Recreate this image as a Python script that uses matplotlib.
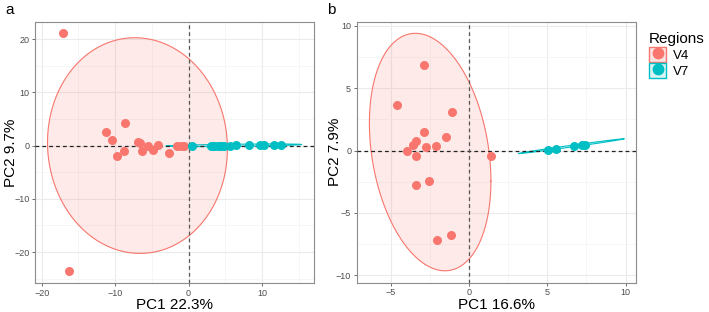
import numpy as np
import matplotlib.pyplot as plt
from matplotlib.patches import Patch
from matplotlib.lines import Line2D

plt.rcParams['font.family'] = ['Liberation Sans', 'DejaVu Sans']

RED = '#F8766D'
TEAL = '#00BFC4'

# panel a scores (PC1, PC2)
a_v4_x = [-17.05, -16.3, -11.2, -8.7, -10.45, -9.8, -8.8, -6.9, -6.6, -6.3,
          -5.45, -4.85, -4.2, -2.7, -1.5, -1.05, -0.6]
a_v4_y = [21.1, -23.6, 2.55, 4.3, 1.1, -2.0, -1.1, 0.7, 0.4, -1.1,
          0.0, -0.9, 0.1, -1.4, 0.0, 0.0, 0.0]
a_v7_x = [0.45, 3.05, 3.5, 3.95, 4.4, 4.9, 5.6, 6.5, 8.2, 9.8, 10.25, 11.7, 12.6]
a_v7_y = [-0.05, 0.0, 0.0, 0.0, 0.0, 0.0, 0.0, 0.05, 0.05, 0.1, 0.1, 0.1, 0.15]

# panel b scores
b_v4_x = [-2.85, -4.6, -1.07, -2.9, -1.45, -3.38, -3.55, -2.74, -2.13, -3.96,
          -3.38, 1.38, -3.36, -2.53, -2.06, -1.13]
b_v4_y = [6.9, 3.64, 3.13, 1.5, 1.12, 0.8, 0.43, 0.3, 0.38, -0.05,
          -0.43, -0.43, -2.75, -2.43, -7.14, -6.74]
b_v7_x = [5.02, 5.55, 6.7, 7.19, 7.4]
b_v7_y = [0.08, 0.11, 0.38, 0.43, 0.48]

# 95% ellipses: centre (x, y) and Cholesky factor (l11, l21, l22)
a_v4_ell = [(-6.95, 0.0), (12.25, -0.58, 20.24)]
a_v7_ell = [(6.15, 0.05), (9.25, 0.15, 0.2)]
b_v4_ell = [(-2.48, -0.12), (3.88, -2.32, 9.24)]
b_v7_ell = [(6.52, 0.35), (3.37, 0.59, 0.07)]

panels = [
    dict(tag='a', xl='PC1 22.3%', yl='PC2 9.7%', xlim=(-20.9, 17.1), ylim=(-25.8, 23.2),
         xt=[-20, -10, 0, 10], yt=[-20, -10, 0, 10, 20],
         v4=(a_v4_x, a_v4_y, a_v4_ell), v7=(a_v7_x, a_v7_y, a_v7_ell),
         rect=[0.0494, 0.093, 0.3936, 0.8365], ylx=-0.086),
    dict(tag='b', xl='PC1 16.6%', yl='PC2 7.9%', xlim=(-7.17, 10.66), ylim=(-10.6, 10.34),
         xt=[-5, 0, 5, 10], yt=[-10, -5, 0, 5, 10],
         v4=(b_v4_x, b_v4_y, b_v4_ell), v7=(b_v7_x, b_v7_y, b_v7_ell),
         rect=[0.5031, 0.094, 0.3939, 0.8365], ylx=-0.078),
]


def draw_ellipse(ax, ell, color):
    (cx, cy), (l11, l21, l22) = ell
    t = np.linspace(0, 2 * np.pi, 300)
    ex = cx + l11 * np.cos(t)
    ey = cy + l21 * np.cos(t) + l22 * np.sin(t)
    ax.fill(ex, ey, color=color, alpha=0.15, lw=0, zorder=2)
    ax.plot(ex, ey, color=color, lw=0.8, zorder=3)


def minor_ticks(major):
    step = major[1] - major[0]
    return np.arange(major[0] - step / 2, major[-1] + step, step)


fig = plt.figure(figsize=(7.09, 3.12), dpi=100)

for p in panels:
    ax = fig.add_axes(p['rect'])
    ax.set_xticks(p['xt'])
    ax.set_yticks(p['yt'])
    ax.set_xticks(minor_ticks(p['xt']), minor=True)
    ax.set_yticks(minor_ticks(p['yt']), minor=True)
    ax.set_xlim(*p['xlim'])
    ax.set_ylim(*p['ylim'])
    ax.grid(True, which='major', color='#EBEBEB', lw=0.8, zorder=0)
    ax.grid(True, which='minor', color='#F3F3F3', lw=0.5, zorder=0)
    ax.set_axisbelow(True)
    ax.tick_params(which='minor', length=0)
    ax.tick_params(which='major', length=2.5, width=0.6, color='#555555',
                   labelsize=6.5, labelcolor='#4D4D4D', pad=1.5)
    for s in ax.spines.values():
        s.set_color('#8C8C8C')
        s.set_linewidth(0.8)

    ax.axhline(0, color='#222222', ls=(0, (3, 2.5)), lw=0.9, zorder=4)
    ax.axvline(0, color='#555555', ls=(0, (3, 2.5)), lw=0.9, zorder=4)

    for key, col in (('v4', RED), ('v7', TEAL)):
        xs, ys, ell = p[key]
        draw_ellipse(ax, ell, col)
        ax.scatter(xs, ys, s=42, color=col, lw=0, zorder=5)

    ax.set_xlabel(p['xl'], fontsize=11, labelpad=0.5)
    ax.set_ylabel(p['yl'], fontsize=11)
    ax.yaxis.set_label_coords(p['ylx'], 0.5)
    ax.yaxis.label.set_verticalalignment('center')
    fig.text(p['rect'][0] - 0.042, 0.99, p['tag'], fontsize=11, va='top', ha='left')

handles = [
    (Patch(facecolor='#FDE3E1', edgecolor=RED, lw=1.0),
     Line2D([], [], marker='o', ls='', color=RED, markersize=7.5)),
    (Patch(facecolor='#D9F4F5', edgecolor=TEAL, lw=1.0),
     Line2D([], [], marker='o', ls='', color=TEAL, markersize=7.5)),
]
fig.legend(handles, ['V4', 'V7'], title='Regions', loc='upper left',
           bbox_to_anchor=(0.912, 0.905), frameon=False, fontsize=9.5,
           title_fontsize=11, handlelength=1.3, handleheight=1.4,
           handletextpad=0.5, labelspacing=0.05, alignment='left',
           borderaxespad=0, borderpad=0.2)

fig.savefig('out.png', dpi=100)
